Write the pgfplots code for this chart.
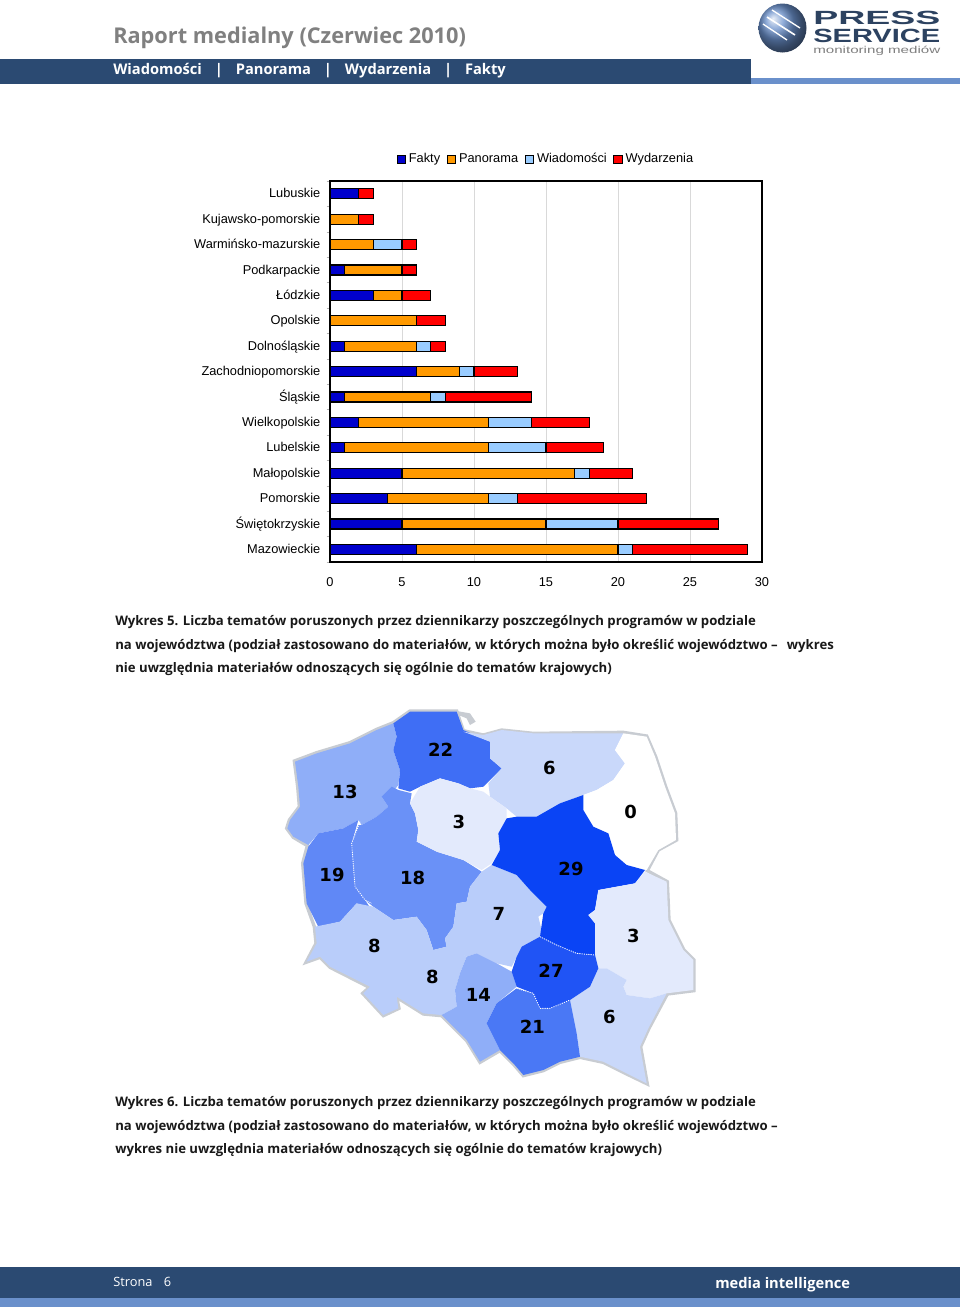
\documentclass[border=0pt]{standalone}
\usepackage{pgfplots}
\pgfplotsset{compat=1.18}
\usepackage{fontspec}
\setmainfont{Liberation Sans}
\newfontfamily\vb{Open Sans}
\newfontfamily\vd{DejaVu Sans}
\definecolor{navy}{HTML}{2B4A72}
\definecolor{band}{HTML}{6A90CB}
\definecolor{logo}{HTML}{2C4260}
\definecolor{fakty}{HTML}{0000CC}
\definecolor{panorama}{HTML}{FF9900}
\definecolor{wiad}{HTML}{99CCFF}
\definecolor{wyd}{HTML}{FF0000}
\definecolor{m0}{HTML}{FFFFFF}
\definecolor{m3}{HTML}{E3EAFC}
\definecolor{m6}{HTML}{C9D8FA}
\definecolor{m8}{HTML}{B9CDFA}
\definecolor{m13}{HTML}{8FAEF8}
\definecolor{m18}{HTML}{6A91F7}
\definecolor{m19}{HTML}{6088F6}
\definecolor{m21}{HTML}{4A78F5}
\definecolor{m22}{HTML}{3F6EF5}
\definecolor{m27}{HTML}{2054F5}
\definecolor{m29}{HTML}{0A44F5}
\definecolor{rim}{HTML}{C8CCD2}
\begin{document}
\begin{tikzpicture}[x=0.75pt,y=-0.75pt]
% page, header and footer, in pixels from the top left
\fill[white] (0,0) rectangle (960,1314);
\fill[navy] (0,59) rectangle (751,84);
\fill[band] (751,78) rectangle (960,84);
\fill[navy] (0,1267) rectangle (960,1298);
\fill[band] (0,1298) rectangle (960,1307);
\node[anchor=west,text=black!50,font=\vb\bfseries\fontsize{16.3pt}{18pt}\selectfont,inner sep=0] at (113,37.5) {Raport medialny (Czerwiec 2010)};
\node[anchor=west,text=white,font=\vb\bfseries\fontsize{11pt}{12pt}\selectfont,inner sep=0] at (113,71) {Wiadomości\hspace{0.88em}|\hspace{0.88em}Panorama\hspace{0.88em}|\hspace{0.88em}Wydarzenia\hspace{0.88em}|\hspace{0.88em}Fakty};
\node[anchor=west,text=white,font=\vb\fontsize{9.6pt}{11pt}\selectfont,inner sep=0] at (113,1282) {Strona\hspace{0.9em}6};
\node[anchor=west,text=white,font=\vb\bfseries\fontsize{11pt}{12pt}\selectfont,inner sep=0] at (715,1285) {media intelligence};
% logo
\shade[ball color=band] (782.5,28) circle[x radius=24,y radius=24.5];
\draw[white,line width=1pt] (772,10) -- (800,28);
\draw[white,line width=1.2pt] (767,17) -- (795,35);
\draw[white,line width=1pt] (763,24) -- (787,40);
\node[anchor=west,text=logo,font=\fontsize{16pt}{16pt}\bfseries\selectfont,inner sep=0] at (813,18) {\resizebox{95.25pt}{10pt}{PRESS}};
\node[anchor=west,text=logo,font=\fontsize{16pt}{16pt}\bfseries\selectfont,inner sep=0] at (813,36) {\resizebox{95.25pt}{10pt}{SERVICE}};
\node[anchor=west,text=black!50,font=\fontsize{7.5pt}{8pt}\selectfont,inner sep=0] at (813,50.5) {\resizebox{95.25pt}{5.5pt}{monitoring mediów}};
% captions
\begin{scope}[every node/.style={anchor=west,inner sep=0,text=black!90,font=\vb\bfseries\fontsize{9.87pt}{11pt}\selectfont}]
\node at (115,622) {Wykres 5. Liczba tematów poruszonych przez dziennikarzy poszczególnych programów w podziale};
\node at (115,646) {na województwa (podział zastosowano do materiałów, w których można było określić województwo –\hspace{0.7em}wykres};
\node at (115,669) {nie uwzględnia materiałów odnoszących się ogólnie do tematów krajowych)};
\node at (115,1103) {Wykres 6. Liczba tematów poruszonych przez dziennikarzy poszczególnych programów w podziale};
\node at (115,1127) {na województwa (podział zastosowano do materiałów, w których można było określić województwo –};
\node at (115,1150) {wykres nie uwzględnia materiałów odnoszących się ogólnie do tematów krajowych)};
\end{scope}
% stacked bars
\begin{axis}[
  at={(247.5pt,-421.5pt)}, anchor=south west,
  scale only axis,
  width=324pt, height=285.75pt,
  xbar stacked,
  bar width=7.5pt,
  xmin=0, xmax=30,
  ymin=-0.5, ymax=14.5,
  xtick distance=5,
  ytick={0,...,14},
  yticklabels={Mazowieckie,Świętokrzyskie,Pomorskie,Małopolskie,Lubelskie,Wielkopolskie,Śląskie,Zachodniopomorskie,Dolnośląskie,Opolskie,Łódzkie,Podkarpackie,Warmińsko-mazurskie,Kujawsko-pomorskie,Lubuskie},
  minor ytick={-0.5,0.5,...,14.5},
  tick align=outside,
  major tick length=0pt,
  minor tick length=2.5pt,
  tick pos=left,
  minor tick style={black!30},
  xmajorgrids,
  major grid style={black!15,line width=0.6pt},
  axis line style={black,line width=1.4pt},
  tick label style={font=\fontsize{9.6pt}{11pt}\selectfont},
  /pgf/number format/assume math mode=true,
  yticklabel style={xshift=-3.7pt,text height=7pt,text depth=2pt,yshift=-0.7pt},
  xticklabel style={yshift=-8.5pt},
  legend columns=4,
  legend style={draw=none,fill=none,at={(0.5005,1.057)},anchor=center,font=\fontsize{9.6pt}{11pt}\selectfont,nodes={text height=7pt,text depth=2pt},/tikz/every even column/.style={column sep=3pt}},
  legend cell align=left,
  legend image code/.code={\draw[#1,line width=0.7pt,fill] (0pt,-3pt) rectangle (6.5pt,3pt);},
  every axis plot/.append style={draw=black,line width=0.9pt},
]
\addplot[fill=fakty] coordinates {(6,0)(5,1)(4,2)(5,3)(1,4)(2,5)(1,6)(6,7)(1,8)(0,9)(3,10)(1,11)(0,12)(0,13)(2,14)};
\addplot[fill=panorama] coordinates {(14,0)(10,1)(7,2)(12,3)(10,4)(9,5)(6,6)(3,7)(5,8)(6,9)(2,10)(4,11)(3,12)(2,13)(0,14)};
\addplot[fill=wiad] coordinates {(1,0)(5,1)(2,2)(1,3)(4,4)(3,5)(1,6)(1,7)(1,8)(0,9)(0,10)(0,11)(2,12)(0,13)(0,14)};
\addplot[fill=wyd] coordinates {(8,0)(7,1)(9,2)(3,3)(4,4)(4,5)(6,6)(3,7)(1,8)(2,9)(2,10)(1,11)(1,12)(1,13)(1,14)};
\legend{Fakty,Panorama,Wiadomości,Wydarzenia}
\end{axis}
% map, polygons in a 1380x1170 grid over the picture at (250,700)
\begin{axis}[
  at={(187.5pt,-817.5pt)}, anchor=south west,
  scale only axis,
  width=345pt, height=292.5pt,
  xmin=0, xmax=1380, ymin=0, ymax=1170,
  y dir=reverse,
  hide axis,
  clip=false,
  every axis plot/.append style={draw=none},
]
% outer rim and the Hel spit
\addplot[fill=rim] coordinates {(620,33)(660,40)(677,65)(660,75)(650,55)(625,45)} -- cycle;
\addplot[draw=rim,line width=2.5pt,no marks] coordinates {(640,92)(700,105)(755,90)(850,100)(1120,97)(1190,108)(1217,170)(1247,260)(1277,340)(1280,420)(1225,450)(1192,512)(1252,545)(1257,660)(1302,750)(1332,780)(1332,872)(1252,882)(1197,985)(1172,1040)(1192,1152)(1130,1122)(1060,1087)(990,1072)(930,1087)(880,1112)(820,1127)(790,1092)(750,1052)(690,1087)(650,1022)(575,947)(520,942)(440,892)(447,925)(400,947)(338,880)(358,862)(240,802)(210,772)(168,787)(198,730)(193,680)(168,610)(158,490)(172,437)(130,412)(110,385)(118,360)(148,320)(143,260)(133,183)(200,158)(300,128)(380,88)(430,68)(480,33)(620,33)} -- cycle;
\addplot[fill=m13] coordinates {(135,185)(200,160)(300,130)(380,90)(430,70)(440,110)(430,150)(450,210)(445,255)(425,280)(395,290)(415,320)(380,350)(335,375)(325,360)(280,385)(205,400)(175,435)(130,410)(112,385)(120,360)(150,320)(145,260)} -- cycle;
\addplot[fill=m22] coordinates {(430,70)(480,35)(620,35)(640,90)(720,125)(720,175)(755,205)(735,225)(700,260)(660,265)(625,250)(570,235)(510,260)(480,275)(445,265)(450,210)(430,150)(440,110)} -- cycle;
\addplot[fill=m6] coordinates {(640,95)(700,105)(755,90)(850,100)(1120,100)(1095,150)(1125,190)(1090,240)(1040,270)(1000,285)(930,310)(860,350)(800,350)(770,325)(720,290)(715,250)(755,205)(720,175)(720,125)} -- cycle;
\addplot[fill=m0] coordinates {(1120,100)(1190,110)(1215,170)(1245,260)(1275,340)(1278,420)(1225,450)(1190,510)(1130,495)(1095,465)(1075,400)(1030,380)(1000,330)(1000,285)(1040,270)(1090,240)(1125,190)(1095,150)} -- cycle;
\addplot[fill=m18] coordinates {(425,260)(445,270)(485,280)(480,310)(495,340)(505,390)(500,425)(560,455)(640,480)(695,515)(660,560)(650,605)(620,610)(610,680)(585,715)(590,740)(550,750)(530,690)(500,650)(430,660)(370,620)(345,600)(315,560)(305,430)(325,375)(335,375)(380,350)(415,320)(395,290)} -- cycle;
\addplot[fill=m3] coordinates {(480,310)(510,260)(570,235)(625,250)(660,265)(700,275)(720,290)(770,325)(770,355)(745,400)(750,450)(725,490)(695,510)(640,480)(560,455)(500,425)(505,390)(495,340)} -- cycle;
\addplot[fill=m19] coordinates {(175,440)(205,400)(280,385)(325,360)(305,430)(315,560)(345,600)(365,630)(320,610)(270,665)(205,680)(170,610)(160,490)} -- cycle;
\addplot[fill=m8] coordinates {(195,680)(270,665)(320,610)(370,620)(430,660)(500,650)(530,690)(550,750)(590,740)(650,770)(630,820)(615,870)(620,920)(575,945)(520,940)(440,890)(445,925)(400,945)(340,880)(360,860)(240,800)(210,770)(170,785)(200,730)} -- cycle;
\addplot[fill=m8] coordinates {(695,515)(725,495)(800,525)(840,570)(890,620)(880,640)(865,650)(875,690)(870,710)(815,740)(800,770)(785,800)(740,790)(680,760)(650,770)(590,745)(585,715)(610,680)(620,610)(650,605)(660,560)} -- cycle;
\addplot[fill=m29] coordinates {(770,355)(800,350)(860,350)(930,310)(1000,285)(1000,330)(1030,380)(1075,400)(1095,465)(1130,495)(1185,510)(1155,550)(1045,570)(1035,630)(1015,645)(1035,670)(1035,765)(980,760)(920,735)(870,710)(880,640)(890,620)(840,570)(800,525)(725,495)(750,450)(745,400)} -- cycle;
\addplot[fill=m3] coordinates {(1185,515)(1250,545)(1255,660)(1300,750)(1330,780)(1330,870)(1250,880)(1200,895)(1130,885)(1120,860)(1130,840)(1070,805)(1045,805)(1035,765)(1035,670)(1015,645)(1035,630)(1045,570)(1155,550)} -- cycle;
\addplot[fill=m6] coordinates {(1045,805)(1070,805)(1130,840)(1120,860)(1130,885)(1200,895)(1250,880)(1195,985)(1170,1040)(1190,1150)(1130,1120)(1060,1085)(990,1070)(980,1000)(960,900)(1020,860)} -- cycle;
\addplot[fill=m13] coordinates {(650,770)(680,760)(740,790)(785,815)(800,860)(740,910)(710,970)(750,1050)(690,1085)(650,1020)(575,945)(620,920)(615,870)(630,820)} -- cycle;
\addplot[fill=m21] coordinates {(960,900)(980,1000)(990,1070)(930,1085)(880,1110)(820,1125)(790,1090)(750,1050)(710,970)(740,910)(800,865)(850,880)(870,925)(900,925)} -- cycle;
\addplot[fill=m27] coordinates {(870,710)(920,735)(980,760)(1035,765)(1045,805)(1020,860)(960,900)(900,925)(870,925)(850,880)(800,860)(785,815)(800,770)(815,740)} -- cycle;
% dotted borders between like shades
\addplot[draw=white,densely dotted,line width=0.7pt] coordinates {(330,365)(305,430)(315,560)(345,600)(365,610)};
\addplot[draw=white,densely dotted,line width=0.7pt] coordinates {(870,710)(920,735)(980,760)(1035,765)};
\addplot[draw=white,densely dotted,line width=0.7pt] coordinates {(800,865)(850,880)(870,925)(900,925)(960,900)};
% region values
\addplot[only marks,mark=none,nodes near coords,point meta=explicit symbolic,
  nodes near coords style={anchor=center,font=\vd\bfseries\fontsize{13.5pt}{14pt}\selectfont,text=black}]
  table[meta=v] {
  x y v
  285 277 13
  572 150 22
  898 204 6
  1142 335 0
  627 367 3
  246 526 19
  488 533 18
  963 508 29
  747 643 7
  1150 708 3
  373 737 8
  547 832 8
  903 812 27
  685 884 14
  847 980 21
  1078 952 6
  };
\end{axis}
\end{tikzpicture}
\end{document}
